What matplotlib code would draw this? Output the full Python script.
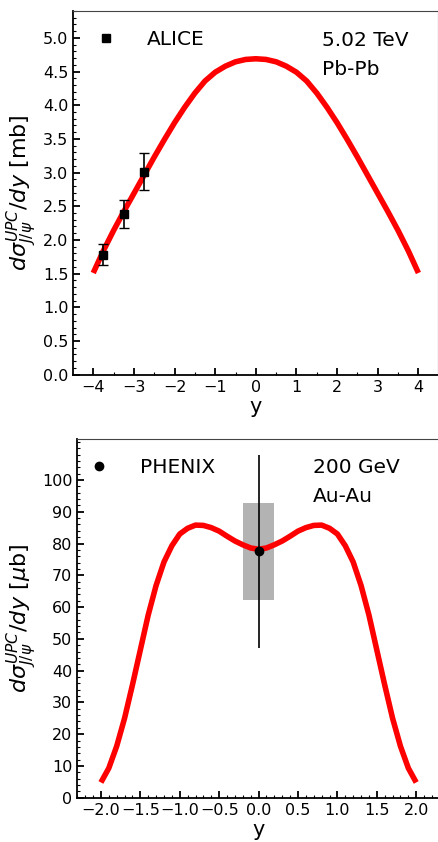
import numpy as np
import matplotlib
matplotlib.use("Agg")
import matplotlib.pyplot as plt
from matplotlib.ticker import MultipleLocator
from matplotlib.lines import Line2D
from matplotlib.patches import Rectangle

# ---------------- data: top panel (ALICE, 5.02 TeV Pb-Pb) ----------------
top_y = [-4.0, -3.75, -3.5, -3.25, -3.0, -2.75, -2.5, -2.25, -2.0, -1.75, -1.5,
         -1.25, -1.0, -0.75, -0.5, -0.25, 0.0, 0.25, 0.5, 0.75, 1.0, 1.25, 1.5,
         1.75, 2.0, 2.25, 2.5, 2.75, 3.0, 3.25, 3.5, 3.75, 4.0]
top_sigma = [1.51, 1.84, 2.14, 2.42, 2.69, 2.96, 3.23, 3.49, 3.74, 3.97, 4.18,
             4.36, 4.49, 4.58, 4.645, 4.68, 4.69, 4.68, 4.645, 4.58, 4.49, 4.36, 4.18,
             3.97, 3.74, 3.49, 3.23, 2.96, 2.69, 2.42, 2.14, 1.84, 1.51]
alice_y = [-3.75, -3.25, -2.75]
alice_val = [1.77, 2.39, 3.01]
alice_lo = [0.14, 0.21, 0.27]
alice_hi = [0.17, 0.21, 0.28]

# ---------------- data: bottom panel (PHENIX, 200 GeV Au-Au) ----------------
bot_y = [-2.0, -1.9, -1.8, -1.7, -1.6, -1.5, -1.4, -1.3, -1.2, -1.1, -1.0,
         -0.9, -0.8, -0.7, -0.6, -0.5, -0.4, -0.3, -0.2, -0.1, 0.0,
         0.1, 0.2, 0.3, 0.4, 0.5, 0.6, 0.7, 0.8, 0.9, 1.0,
         1.1, 1.2, 1.3, 1.4, 1.5, 1.6, 1.7, 1.8, 1.9, 2.0]
bot_sigma = [4.8, 9.3, 16.2, 25.0, 35.5, 46.5, 57.5, 66.8, 74.2, 79.3, 83.0,
             84.8, 85.8, 85.7, 85.0, 83.9, 82.3, 80.8, 79.6, 78.6, 78.2,
             78.6, 79.6, 80.8, 82.3, 83.9, 85.0, 85.7, 85.8, 84.8, 83.0,
             79.3, 74.2, 66.8, 57.5, 46.5, 35.5, 25.0, 16.2, 9.3, 4.8]
phenix_y = [0.0]
phenix_val = [77.5]
phenix_stat = [30.5]
phenix_syst = [15.2]
phenix_box_halfwidth = 0.2

plt.rcParams['font.family'] = ['DejaVu Sans']

fig = plt.figure(figsize=(4.39, 8.42), dpi=100)
ax1 = fig.add_axes([0.167, 0.555, 0.8315, 0.432])
ax2 = fig.add_axes([0.176, 0.0526, 0.826, 0.4264])

tick_fs = 11.5
text_fs = 14.5
label_fs = 16

def style(ax):
    for s in ['top', 'right']:
        ax.spines[s].set_linewidth(0.8)
        ax.spines[s].set_color('#444444')
    for s in ['left', 'bottom']:
        ax.spines[s].set_linewidth(1.3)
    ax.tick_params(which='major', direction='in', length=5, width=1.3,
                   labelsize=tick_fs, top=False, right=False)
    ax.tick_params(which='minor', direction='in', length=2.5, width=0.8,
                   top=False, right=False)

# ---- top panel
ax1.plot(top_y, top_sigma, color='red', lw=4, solid_capstyle='butt',
         solid_joinstyle='round', zorder=2)
ax1.errorbar(alice_y, alice_val, yerr=[alice_lo, alice_hi], fmt='s', color='black',
             ms=6, capsize=3.5, elinewidth=1.2, capthick=1.0, zorder=3)
ax1.set_xlim(-4.49, 4.49)
ax1.set_ylim(0, 5.4)
ax1.xaxis.set_major_locator(MultipleLocator(1))
ax1.xaxis.set_minor_locator(MultipleLocator(0.5))
ax1.yaxis.set_major_locator(MultipleLocator(0.5))
ax1.yaxis.set_minor_locator(MultipleLocator(0.1))
style(ax1)
ax1.set_xlabel('y', fontsize=15, labelpad=2)
ax1.set_ylabel(r'$d\sigma^{UPC}_{J/\psi}/dy$ [mb]', fontsize=label_fs, labelpad=2.5)
h1 = Line2D([], [], marker='s', ls='none', color='black', ms=6)
ax1.legend([h1], ['ALICE'], loc='upper left', frameon=False, fontsize=text_fs,
           handletextpad=1.05, borderaxespad=0.6, bbox_to_anchor=(-0.022, 1.002))
ax1.text(0.68, 0.946, '5.02 TeV', transform=ax1.transAxes, fontsize=text_fs, va='top')
ax1.text(0.68, 0.864, 'Pb-Pb', transform=ax1.transAxes, fontsize=text_fs, va='top')

# ---- bottom panel
ax2.add_patch(Rectangle((phenix_y[0] - phenix_box_halfwidth, phenix_val[0] - phenix_syst[0]),
                        2 * phenix_box_halfwidth, 2 * phenix_syst[0],
                        facecolor='#b3b3b3', edgecolor='none', zorder=1))
ax2.plot(bot_y, bot_sigma, color='red', lw=4, solid_capstyle='butt',
         solid_joinstyle='round', zorder=2)
ax2.errorbar(phenix_y, phenix_val, yerr=phenix_stat, fmt='o', color='black',
             ms=6, elinewidth=1.2, capsize=0, zorder=3)
ax2.set_xlim(-2.3, 2.3)
ax2.set_ylim(0, 113)
ax2.xaxis.set_major_locator(MultipleLocator(0.5))
ax2.xaxis.set_minor_locator(MultipleLocator(0.1))
ax2.yaxis.set_major_locator(MultipleLocator(10))
ax2.yaxis.set_minor_locator(MultipleLocator(2))
ax2.set_yticks(np.arange(0, 101, 10))
style(ax2)
ax2.set_xlabel('y', fontsize=15, labelpad=2)
ax2.set_ylabel(r'$d\sigma^{UPC}_{J/\psi}/dy$ [$\mu$b]', fontsize=label_fs, labelpad=2)
h2 = Line2D([], [], marker='o', ls='none', color='black', ms=6)
ax2.legend([h2], ['PHENIX'], loc='upper left', frameon=False, fontsize=text_fs,
           handletextpad=1.0, borderaxespad=0.6, bbox_to_anchor=(-0.05, 1.002))
ax2.text(0.65, 0.946, '200 GeV', transform=ax2.transAxes, fontsize=text_fs, va='top')
ax2.text(0.65, 0.865, 'Au-Au', transform=ax2.transAxes, fontsize=text_fs, va='top')

fig.savefig('out.png', dpi=100)
